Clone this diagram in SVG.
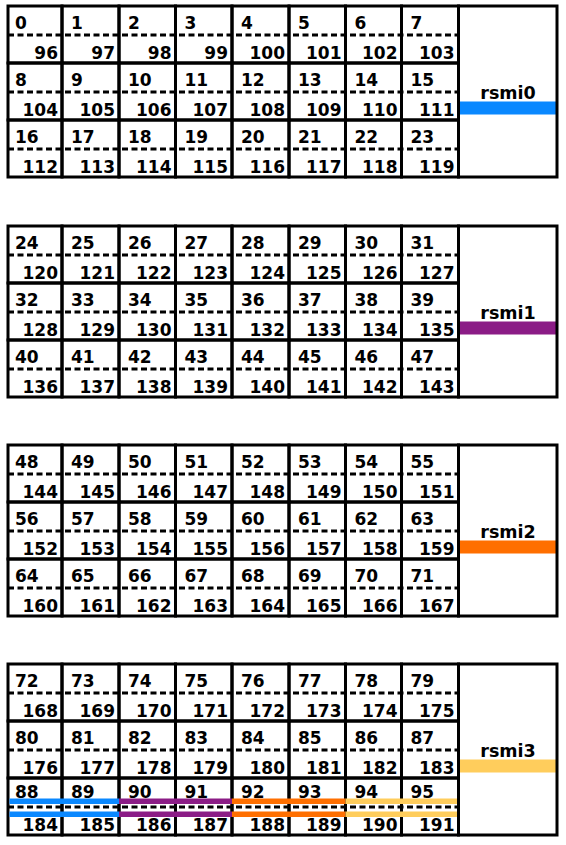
<svg xmlns="http://www.w3.org/2000/svg" width="566" height="845" viewBox="0 0 566 845">
<style>
.cell rect,.label rect.box{fill:none;stroke:#000;stroke-width:3}
text{font-family:"DejaVu Sans","Liberation Sans",Arial,sans-serif;font-weight:bold;font-size:17px;fill:#000}
.b{text-anchor:end}
.l{text-anchor:middle;font-size:17.5px}
.d{stroke:#000;stroke-width:3;stroke-dasharray:6 3.5}
.blue{fill:#0a88ff}.purple{fill:#8b1c86}.orange{fill:#ff6f00}.yellow{fill:#ffcd5c}
</style>
<rect x="0" y="0" width="566" height="845" fill="#fff"/>

<!-- Block 0 -->
<g id="block-rsmi0">
<g id="row-0" transform="translate(0,6)">
<g class="cell" id="cell-0"><rect x="8" y="0" width="54" height="57"/><text x="15" y="22.5">0</text><text class="b" x="58" y="52.5">96</text></g>
<g class="cell" id="cell-1"><rect x="62" y="0" width="57" height="57"/><text x="71" y="22.5">1</text><text class="b" x="115" y="52.5">97</text></g>
<g class="cell" id="cell-2"><rect x="119" y="0" width="56.5" height="57"/><text x="128" y="22.5">2</text><text class="b" x="171.5" y="52.5">98</text></g>
<g class="cell" id="cell-3"><rect x="175.5" y="0" width="56.5" height="57"/><text x="184.5" y="22.5">3</text><text class="b" x="228" y="52.5">99</text></g>
<g class="cell" id="cell-4"><rect x="232" y="0" width="57" height="57"/><text x="241" y="22.5">4</text><text class="b" x="285" y="52.5">100</text></g>
<g class="cell" id="cell-5"><rect x="289" y="0" width="56.5" height="57"/><text x="298" y="22.5">5</text><text class="b" x="341.5" y="52.5">101</text></g>
<g class="cell" id="cell-6"><rect x="345.5" y="0" width="56" height="57"/><text x="354.5" y="22.5">6</text><text class="b" x="397.5" y="52.5">102</text></g>
<g class="cell" id="cell-7"><rect x="401.5" y="0" width="57" height="57"/><text x="410.5" y="22.5">7</text><text class="b" x="454.5" y="52.5">103</text></g>
<line class="d" x1="8" y1="29" x2="458.5" y2="29"/>
</g>
<g id="row-1" transform="translate(0,63)">
<g class="cell" id="cell-8"><rect x="8" y="0" width="54" height="57"/><text x="15" y="22.5">8</text><text class="b" x="58" y="52.5">104</text></g>
<g class="cell" id="cell-9"><rect x="62" y="0" width="57" height="57"/><text x="71" y="22.5">9</text><text class="b" x="115" y="52.5">105</text></g>
<g class="cell" id="cell-10"><rect x="119" y="0" width="56.5" height="57"/><text x="128" y="22.5">10</text><text class="b" x="171.5" y="52.5">106</text></g>
<g class="cell" id="cell-11"><rect x="175.5" y="0" width="56.5" height="57"/><text x="184.5" y="22.5">11</text><text class="b" x="228" y="52.5">107</text></g>
<g class="cell" id="cell-12"><rect x="232" y="0" width="57" height="57"/><text x="241" y="22.5">12</text><text class="b" x="285" y="52.5">108</text></g>
<g class="cell" id="cell-13"><rect x="289" y="0" width="56.5" height="57"/><text x="298" y="22.5">13</text><text class="b" x="341.5" y="52.5">109</text></g>
<g class="cell" id="cell-14"><rect x="345.5" y="0" width="56" height="57"/><text x="354.5" y="22.5">14</text><text class="b" x="397.5" y="52.5">110</text></g>
<g class="cell" id="cell-15"><rect x="401.5" y="0" width="57" height="57"/><text x="410.5" y="22.5">15</text><text class="b" x="454.5" y="52.5">111</text></g>
<line class="d" x1="8" y1="29" x2="458.5" y2="29"/>
</g>
<g id="row-2" transform="translate(0,120)">
<g class="cell" id="cell-16"><rect x="8" y="0" width="54" height="57"/><text x="15" y="22.5">16</text><text class="b" x="58" y="52.5">112</text></g>
<g class="cell" id="cell-17"><rect x="62" y="0" width="57" height="57"/><text x="71" y="22.5">17</text><text class="b" x="115" y="52.5">113</text></g>
<g class="cell" id="cell-18"><rect x="119" y="0" width="56.5" height="57"/><text x="128" y="22.5">18</text><text class="b" x="171.5" y="52.5">114</text></g>
<g class="cell" id="cell-19"><rect x="175.5" y="0" width="56.5" height="57"/><text x="184.5" y="22.5">19</text><text class="b" x="228" y="52.5">115</text></g>
<g class="cell" id="cell-20"><rect x="232" y="0" width="57" height="57"/><text x="241" y="22.5">20</text><text class="b" x="285" y="52.5">116</text></g>
<g class="cell" id="cell-21"><rect x="289" y="0" width="56.5" height="57"/><text x="298" y="22.5">21</text><text class="b" x="341.5" y="52.5">117</text></g>
<g class="cell" id="cell-22"><rect x="345.5" y="0" width="56" height="57"/><text x="354.5" y="22.5">22</text><text class="b" x="397.5" y="52.5">118</text></g>
<g class="cell" id="cell-23"><rect x="401.5" y="0" width="57" height="57"/><text x="410.5" y="22.5">23</text><text class="b" x="454.5" y="52.5">119</text></g>
<line class="d" x1="8" y1="29" x2="458.5" y2="29"/>
</g>
<g class="label" id="rsmi0" transform="translate(0,6)">
<rect class="blue" x="458.5" y="95.5" width="98.5" height="13"/>
<rect class="box" x="458.5" y="0" width="98.5" height="171"/>
<text class="l" x="508" y="93">rsmi0</text>
</g>
</g>

<!-- Block 1 -->
<g id="block-rsmi1">
<g id="row-3" transform="translate(0,226)">
<g class="cell" id="cell-24"><rect x="8" y="0" width="54" height="57"/><text x="15" y="22.5">24</text><text class="b" x="58" y="52.5">120</text></g>
<g class="cell" id="cell-25"><rect x="62" y="0" width="57" height="57"/><text x="71" y="22.5">25</text><text class="b" x="115" y="52.5">121</text></g>
<g class="cell" id="cell-26"><rect x="119" y="0" width="56.5" height="57"/><text x="128" y="22.5">26</text><text class="b" x="171.5" y="52.5">122</text></g>
<g class="cell" id="cell-27"><rect x="175.5" y="0" width="56.5" height="57"/><text x="184.5" y="22.5">27</text><text class="b" x="228" y="52.5">123</text></g>
<g class="cell" id="cell-28"><rect x="232" y="0" width="57" height="57"/><text x="241" y="22.5">28</text><text class="b" x="285" y="52.5">124</text></g>
<g class="cell" id="cell-29"><rect x="289" y="0" width="56.5" height="57"/><text x="298" y="22.5">29</text><text class="b" x="341.5" y="52.5">125</text></g>
<g class="cell" id="cell-30"><rect x="345.5" y="0" width="56" height="57"/><text x="354.5" y="22.5">30</text><text class="b" x="397.5" y="52.5">126</text></g>
<g class="cell" id="cell-31"><rect x="401.5" y="0" width="57" height="57"/><text x="410.5" y="22.5">31</text><text class="b" x="454.5" y="52.5">127</text></g>
<line class="d" x1="8" y1="29" x2="458.5" y2="29"/>
</g>
<g id="row-4" transform="translate(0,283)">
<g class="cell" id="cell-32"><rect x="8" y="0" width="54" height="57"/><text x="15" y="22.5">32</text><text class="b" x="58" y="52.5">128</text></g>
<g class="cell" id="cell-33"><rect x="62" y="0" width="57" height="57"/><text x="71" y="22.5">33</text><text class="b" x="115" y="52.5">129</text></g>
<g class="cell" id="cell-34"><rect x="119" y="0" width="56.5" height="57"/><text x="128" y="22.5">34</text><text class="b" x="171.5" y="52.5">130</text></g>
<g class="cell" id="cell-35"><rect x="175.5" y="0" width="56.5" height="57"/><text x="184.5" y="22.5">35</text><text class="b" x="228" y="52.5">131</text></g>
<g class="cell" id="cell-36"><rect x="232" y="0" width="57" height="57"/><text x="241" y="22.5">36</text><text class="b" x="285" y="52.5">132</text></g>
<g class="cell" id="cell-37"><rect x="289" y="0" width="56.5" height="57"/><text x="298" y="22.5">37</text><text class="b" x="341.5" y="52.5">133</text></g>
<g class="cell" id="cell-38"><rect x="345.5" y="0" width="56" height="57"/><text x="354.5" y="22.5">38</text><text class="b" x="397.5" y="52.5">134</text></g>
<g class="cell" id="cell-39"><rect x="401.5" y="0" width="57" height="57"/><text x="410.5" y="22.5">39</text><text class="b" x="454.5" y="52.5">135</text></g>
<line class="d" x1="8" y1="29" x2="458.5" y2="29"/>
</g>
<g id="row-5" transform="translate(0,340)">
<g class="cell" id="cell-40"><rect x="8" y="0" width="54" height="57"/><text x="15" y="22.5">40</text><text class="b" x="58" y="52.5">136</text></g>
<g class="cell" id="cell-41"><rect x="62" y="0" width="57" height="57"/><text x="71" y="22.5">41</text><text class="b" x="115" y="52.5">137</text></g>
<g class="cell" id="cell-42"><rect x="119" y="0" width="56.5" height="57"/><text x="128" y="22.5">42</text><text class="b" x="171.5" y="52.5">138</text></g>
<g class="cell" id="cell-43"><rect x="175.5" y="0" width="56.5" height="57"/><text x="184.5" y="22.5">43</text><text class="b" x="228" y="52.5">139</text></g>
<g class="cell" id="cell-44"><rect x="232" y="0" width="57" height="57"/><text x="241" y="22.5">44</text><text class="b" x="285" y="52.5">140</text></g>
<g class="cell" id="cell-45"><rect x="289" y="0" width="56.5" height="57"/><text x="298" y="22.5">45</text><text class="b" x="341.5" y="52.5">141</text></g>
<g class="cell" id="cell-46"><rect x="345.5" y="0" width="56" height="57"/><text x="354.5" y="22.5">46</text><text class="b" x="397.5" y="52.5">142</text></g>
<g class="cell" id="cell-47"><rect x="401.5" y="0" width="57" height="57"/><text x="410.5" y="22.5">47</text><text class="b" x="454.5" y="52.5">143</text></g>
<line class="d" x1="8" y1="29" x2="458.5" y2="29"/>
</g>
<g class="label" id="rsmi1" transform="translate(0,226)">
<rect class="purple" x="458.5" y="95.5" width="98.5" height="13"/>
<rect class="box" x="458.5" y="0" width="98.5" height="171"/>
<text class="l" x="508" y="93">rsmi1</text>
</g>
</g>

<!-- Block 2 -->
<g id="block-rsmi2">
<g id="row-6" transform="translate(0,445)">
<g class="cell" id="cell-48"><rect x="8" y="0" width="54" height="57"/><text x="15" y="22.5">48</text><text class="b" x="58" y="52.5">144</text></g>
<g class="cell" id="cell-49"><rect x="62" y="0" width="57" height="57"/><text x="71" y="22.5">49</text><text class="b" x="115" y="52.5">145</text></g>
<g class="cell" id="cell-50"><rect x="119" y="0" width="56.5" height="57"/><text x="128" y="22.5">50</text><text class="b" x="171.5" y="52.5">146</text></g>
<g class="cell" id="cell-51"><rect x="175.5" y="0" width="56.5" height="57"/><text x="184.5" y="22.5">51</text><text class="b" x="228" y="52.5">147</text></g>
<g class="cell" id="cell-52"><rect x="232" y="0" width="57" height="57"/><text x="241" y="22.5">52</text><text class="b" x="285" y="52.5">148</text></g>
<g class="cell" id="cell-53"><rect x="289" y="0" width="56.5" height="57"/><text x="298" y="22.5">53</text><text class="b" x="341.5" y="52.5">149</text></g>
<g class="cell" id="cell-54"><rect x="345.5" y="0" width="56" height="57"/><text x="354.5" y="22.5">54</text><text class="b" x="397.5" y="52.5">150</text></g>
<g class="cell" id="cell-55"><rect x="401.5" y="0" width="57" height="57"/><text x="410.5" y="22.5">55</text><text class="b" x="454.5" y="52.5">151</text></g>
<line class="d" x1="8" y1="29" x2="458.5" y2="29"/>
</g>
<g id="row-7" transform="translate(0,502)">
<g class="cell" id="cell-56"><rect x="8" y="0" width="54" height="57"/><text x="15" y="22.5">56</text><text class="b" x="58" y="52.5">152</text></g>
<g class="cell" id="cell-57"><rect x="62" y="0" width="57" height="57"/><text x="71" y="22.5">57</text><text class="b" x="115" y="52.5">153</text></g>
<g class="cell" id="cell-58"><rect x="119" y="0" width="56.5" height="57"/><text x="128" y="22.5">58</text><text class="b" x="171.5" y="52.5">154</text></g>
<g class="cell" id="cell-59"><rect x="175.5" y="0" width="56.5" height="57"/><text x="184.5" y="22.5">59</text><text class="b" x="228" y="52.5">155</text></g>
<g class="cell" id="cell-60"><rect x="232" y="0" width="57" height="57"/><text x="241" y="22.5">60</text><text class="b" x="285" y="52.5">156</text></g>
<g class="cell" id="cell-61"><rect x="289" y="0" width="56.5" height="57"/><text x="298" y="22.5">61</text><text class="b" x="341.5" y="52.5">157</text></g>
<g class="cell" id="cell-62"><rect x="345.5" y="0" width="56" height="57"/><text x="354.5" y="22.5">62</text><text class="b" x="397.5" y="52.5">158</text></g>
<g class="cell" id="cell-63"><rect x="401.5" y="0" width="57" height="57"/><text x="410.5" y="22.5">63</text><text class="b" x="454.5" y="52.5">159</text></g>
<line class="d" x1="8" y1="29" x2="458.5" y2="29"/>
</g>
<g id="row-8" transform="translate(0,559)">
<g class="cell" id="cell-64"><rect x="8" y="0" width="54" height="57"/><text x="15" y="22.5">64</text><text class="b" x="58" y="52.5">160</text></g>
<g class="cell" id="cell-65"><rect x="62" y="0" width="57" height="57"/><text x="71" y="22.5">65</text><text class="b" x="115" y="52.5">161</text></g>
<g class="cell" id="cell-66"><rect x="119" y="0" width="56.5" height="57"/><text x="128" y="22.5">66</text><text class="b" x="171.5" y="52.5">162</text></g>
<g class="cell" id="cell-67"><rect x="175.5" y="0" width="56.5" height="57"/><text x="184.5" y="22.5">67</text><text class="b" x="228" y="52.5">163</text></g>
<g class="cell" id="cell-68"><rect x="232" y="0" width="57" height="57"/><text x="241" y="22.5">68</text><text class="b" x="285" y="52.5">164</text></g>
<g class="cell" id="cell-69"><rect x="289" y="0" width="56.5" height="57"/><text x="298" y="22.5">69</text><text class="b" x="341.5" y="52.5">165</text></g>
<g class="cell" id="cell-70"><rect x="345.5" y="0" width="56" height="57"/><text x="354.5" y="22.5">70</text><text class="b" x="397.5" y="52.5">166</text></g>
<g class="cell" id="cell-71"><rect x="401.5" y="0" width="57" height="57"/><text x="410.5" y="22.5">71</text><text class="b" x="454.5" y="52.5">167</text></g>
<line class="d" x1="8" y1="29" x2="458.5" y2="29"/>
</g>
<g class="label" id="rsmi2" transform="translate(0,445)">
<rect class="orange" x="458.5" y="95.5" width="98.5" height="13"/>
<rect class="box" x="458.5" y="0" width="98.5" height="171"/>
<text class="l" x="508" y="93">rsmi2</text>
</g>
</g>

<!-- Block 3 -->
<g id="block-rsmi3">
<g id="row-9" transform="translate(0,664)">
<g class="cell" id="cell-72"><rect x="8" y="0" width="54" height="57"/><text x="15" y="22.5">72</text><text class="b" x="58" y="52.5">168</text></g>
<g class="cell" id="cell-73"><rect x="62" y="0" width="57" height="57"/><text x="71" y="22.5">73</text><text class="b" x="115" y="52.5">169</text></g>
<g class="cell" id="cell-74"><rect x="119" y="0" width="56.5" height="57"/><text x="128" y="22.5">74</text><text class="b" x="171.5" y="52.5">170</text></g>
<g class="cell" id="cell-75"><rect x="175.5" y="0" width="56.5" height="57"/><text x="184.5" y="22.5">75</text><text class="b" x="228" y="52.5">171</text></g>
<g class="cell" id="cell-76"><rect x="232" y="0" width="57" height="57"/><text x="241" y="22.5">76</text><text class="b" x="285" y="52.5">172</text></g>
<g class="cell" id="cell-77"><rect x="289" y="0" width="56.5" height="57"/><text x="298" y="22.5">77</text><text class="b" x="341.5" y="52.5">173</text></g>
<g class="cell" id="cell-78"><rect x="345.5" y="0" width="56" height="57"/><text x="354.5" y="22.5">78</text><text class="b" x="397.5" y="52.5">174</text></g>
<g class="cell" id="cell-79"><rect x="401.5" y="0" width="57" height="57"/><text x="410.5" y="22.5">79</text><text class="b" x="454.5" y="52.5">175</text></g>
<line class="d" x1="8" y1="29" x2="458.5" y2="29"/>
</g>
<g id="row-10" transform="translate(0,721)">
<g class="cell" id="cell-80"><rect x="8" y="0" width="54" height="57"/><text x="15" y="22.5">80</text><text class="b" x="58" y="52.5">176</text></g>
<g class="cell" id="cell-81"><rect x="62" y="0" width="57" height="57"/><text x="71" y="22.5">81</text><text class="b" x="115" y="52.5">177</text></g>
<g class="cell" id="cell-82"><rect x="119" y="0" width="56.5" height="57"/><text x="128" y="22.5">82</text><text class="b" x="171.5" y="52.5">178</text></g>
<g class="cell" id="cell-83"><rect x="175.5" y="0" width="56.5" height="57"/><text x="184.5" y="22.5">83</text><text class="b" x="228" y="52.5">179</text></g>
<g class="cell" id="cell-84"><rect x="232" y="0" width="57" height="57"/><text x="241" y="22.5">84</text><text class="b" x="285" y="52.5">180</text></g>
<g class="cell" id="cell-85"><rect x="289" y="0" width="56.5" height="57"/><text x="298" y="22.5">85</text><text class="b" x="341.5" y="52.5">181</text></g>
<g class="cell" id="cell-86"><rect x="345.5" y="0" width="56" height="57"/><text x="354.5" y="22.5">86</text><text class="b" x="397.5" y="52.5">182</text></g>
<g class="cell" id="cell-87"><rect x="401.5" y="0" width="57" height="57"/><text x="410.5" y="22.5">87</text><text class="b" x="454.5" y="52.5">183</text></g>
<line class="d" x1="8" y1="29" x2="458.5" y2="29"/>
</g>
<g id="row-11" transform="translate(0,778)">
<g class="cell" id="cell-88"><rect x="8" y="0" width="54" height="57"/><text x="15" y="20">88</text><text class="b" x="58" y="52.5">184</text></g>
<g class="cell" id="cell-89"><rect x="62" y="0" width="57" height="57"/><text x="71" y="20">89</text><text class="b" x="115" y="52.5">185</text></g>
<g class="cell" id="cell-90"><rect x="119" y="0" width="56.5" height="57"/><text x="128" y="20">90</text><text class="b" x="171.5" y="52.5">186</text></g>
<g class="cell" id="cell-91"><rect x="175.5" y="0" width="56.5" height="57"/><text x="184.5" y="20">91</text><text class="b" x="228" y="52.5">187</text></g>
<g class="cell" id="cell-92"><rect x="232" y="0" width="57" height="57"/><text x="241" y="20">92</text><text class="b" x="285" y="52.5">188</text></g>
<g class="cell" id="cell-93"><rect x="289" y="0" width="56.5" height="57"/><text x="298" y="20">93</text><text class="b" x="341.5" y="52.5">189</text></g>
<g class="cell" id="cell-94"><rect x="345.5" y="0" width="56" height="57"/><text x="354.5" y="20">94</text><text class="b" x="397.5" y="52.5">190</text></g>
<g class="cell" id="cell-95"><rect x="401.5" y="0" width="57" height="57"/><text x="410.5" y="20">95</text><text class="b" x="454.5" y="52.5">191</text></g>
<g id="mapping-bars">
<rect class="blue" x="9.5" y="20.5" width="109.5" height="5.5"/>
<rect class="blue" x="9.5" y="33.5" width="109.5" height="5.5"/>
<rect class="purple" x="119" y="20.5" width="113" height="5.5"/>
<rect class="purple" x="119" y="33.5" width="113" height="5.5"/>
<rect class="orange" x="232" y="20.5" width="113.5" height="5.5"/>
<rect class="orange" x="232" y="33.5" width="113.5" height="5.5"/>
<rect class="yellow" x="345.5" y="20.5" width="111.5" height="5.5"/>
<rect class="yellow" x="345.5" y="33.5" width="111.5" height="5.5"/>
</g>
<line class="d" x1="8" y1="29" x2="458.5" y2="29"/>
</g>
<g class="label" id="rsmi3" transform="translate(0,664)">
<rect class="yellow" x="458.5" y="95.5" width="98.5" height="13"/>
<rect class="box" x="458.5" y="0" width="98.5" height="171"/>
<text class="l" x="508" y="93">rsmi3</text>
</g>
</g>
</svg>
